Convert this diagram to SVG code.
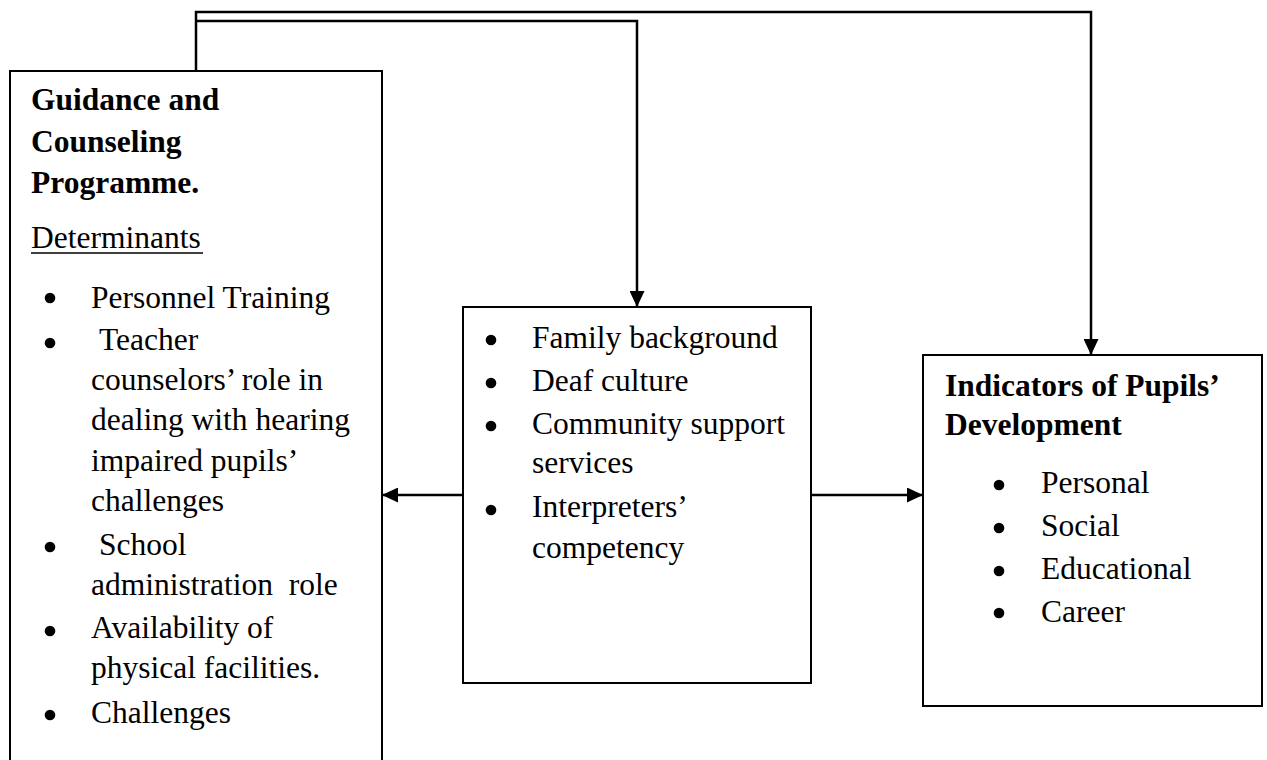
<svg xmlns="http://www.w3.org/2000/svg" width="1267" height="760" viewBox="0 0 1267 760">
<style>
  .box { fill: #fff; stroke: #000; stroke-width: 2; }
  .t { font-family: "Liberation Serif", "Times New Roman", serif; font-size: 31.5px; fill: #000; }
  .b { font-weight: bold; }
  .dot { fill: #000; }
  .con { fill: none; stroke: #000; stroke-width: 2.5; }
</style>
<defs>
  <marker id="arr" viewBox="0 0 16 15" refX="16" refY="7.5" markerWidth="16" markerHeight="15" markerUnits="userSpaceOnUse" orient="auto">
    <path d="M0,0 L16,7.5 L0,15 z" fill="#000"/>
  </marker>
</defs>
<rect width="1267" height="760" fill="#fff"/>

<g id="connectors">
  <path class="con" d="M196,71 V12 H1091 V355" marker-end="url(#arr)"/>
  <path class="con" d="M196,21 H637 V307" marker-end="url(#arr)"/>
  <path class="con" d="M463,495 H382" marker-end="url(#arr)"/>
  <path class="con" d="M811,495 H923" marker-end="url(#arr)"/>
</g>

<g id="node-guidance">
  <rect class="box" x="10" y="71" width="372" height="700"/>
  <text class="t b" x="31" y="110">Guidance and</text>
  <text class="t b" x="31" y="152">Counseling</text>
  <text class="t b" x="31" y="193">Programme.</text>
  <text class="t" x="31" y="248">Determinants</text>
  <line x1="31" y1="253" x2="203" y2="253" stroke="#000" stroke-width="1.5"/>
  <circle class="dot" cx="50" cy="298" r="5.3"/>
  <text class="t" x="91" y="308">Personnel Training</text>
  <circle class="dot" cx="50" cy="343" r="5.3"/>
  <text class="t" x="99" y="350">Teacher</text>
  <text class="t" x="91" y="390">counselors’ role in</text>
  <text class="t" x="91" y="430">dealing with hearing</text>
  <text class="t" x="91" y="471">impaired pupils’</text>
  <text class="t" x="91" y="511">challenges</text>
  <circle class="dot" cx="50" cy="547" r="5.3"/>
  <text class="t" x="99" y="555">School</text>
  <text class="t" x="91" y="595" xml:space="preserve">administration  role</text>
  <circle class="dot" cx="50" cy="631" r="5.3"/>
  <text class="t" x="91" y="638">Availability of</text>
  <text class="t" x="91" y="678">physical facilities.</text>
  <circle class="dot" cx="50" cy="715" r="5.3"/>
  <text class="t" x="91" y="723">Challenges</text>
</g>

<g id="node-factors">
  <rect class="box" x="463" y="307" width="348" height="376"/>
  <circle class="dot" cx="491" cy="340" r="5.3"/>
  <text class="t" x="532" y="348">Family background</text>
  <circle class="dot" cx="491" cy="383" r="5.3"/>
  <text class="t" x="532" y="391">Deaf culture</text>
  <circle class="dot" cx="491" cy="426" r="5.3"/>
  <text class="t" x="532" y="434">Community support</text>
  <text class="t" x="532" y="473">services</text>
  <circle class="dot" cx="491" cy="510" r="5.3"/>
  <text class="t" x="532" y="517">Interpreters’</text>
  <text class="t" x="532" y="558">competency</text>
</g>

<g id="node-indicators">
  <rect class="box" x="923" y="355" width="339" height="351"/>
  <text class="t b" x="945" y="396">Indicators of Pupils’</text>
  <text class="t b" x="945" y="435">Development</text>
  <circle class="dot" cx="999" cy="485" r="5.3"/>
  <text class="t" x="1041" y="493">Personal</text>
  <circle class="dot" cx="999" cy="528" r="5.3"/>
  <text class="t" x="1041" y="536">Social</text>
  <circle class="dot" cx="999" cy="571" r="5.3"/>
  <text class="t" x="1041" y="579">Educational</text>
  <circle class="dot" cx="999" cy="613" r="5.3"/>
  <text class="t" x="1041" y="622">Career</text>
</g>
</svg>
